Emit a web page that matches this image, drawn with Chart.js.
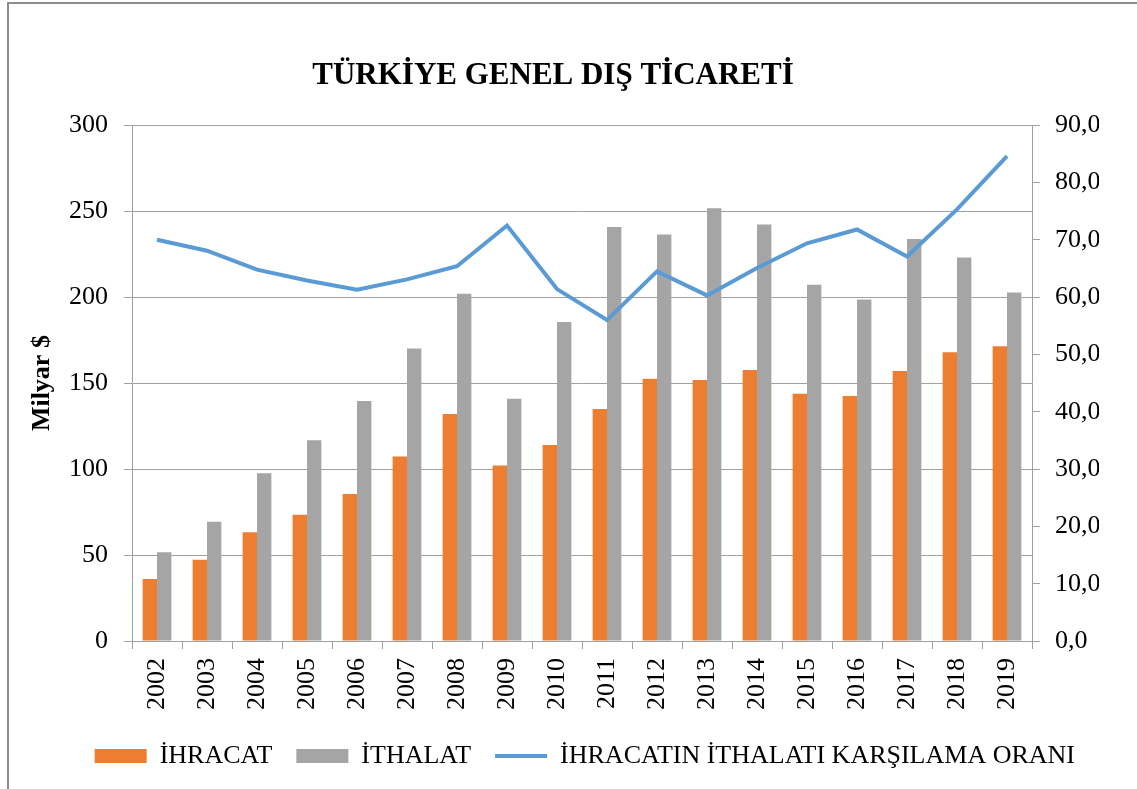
<!DOCTYPE html>
<html>
<head>
<meta charset="utf-8">
<title>Türkiye Genel Dış Ticareti</title>
<script src="https://cdn.jsdelivr.net/npm/chart.js@4.4.0/dist/chart.umd.min.js"></script>
<style>
    html, body { margin: 0; padding: 0; background: #fff; overflow: hidden; }
    #wrap { position: relative; width: 1137px; height: 789px; overflow: hidden; }
    #frame {
        position: absolute; left: 7px; top: 2px; right: -10px; bottom: -10px;
        border-left: 2px solid #8c8c8c; border-top: 2px solid #8c8c8c;
        pointer-events: none;
    }
    canvas { position: absolute; left: 0; top: 0; }
</style>
</head>
<body>
<div id="wrap">
    <canvas id="tradeChart" width="1137" height="789"></canvas>
    <div id="frame"></div>
</div>
<script>
const years = ['2002', '2003', '2004', '2005', '2006', '2007', '2008', '2009', '2010',
    '2011', '2012', '2013', '2014', '2015', '2016', '2017', '2018', '2019'];

// milyar $
const ihracat = [36.1, 47.3, 63.2, 73.5, 85.5, 107.3, 132.0, 102.1, 114.0,
    135.0, 152.5, 151.8, 157.6, 143.8, 142.5, 157.0, 167.9, 171.5];
const ithalat = [51.6, 69.3, 97.5, 116.8, 139.6, 170.1, 202.0, 140.9, 185.5,
    240.8, 236.5, 251.7, 242.2, 207.2, 198.6, 233.8, 223.0, 202.7];

// %
const karsilamaOrani = [70.0, 68.1, 64.8, 62.9, 61.3, 63.1, 65.4, 72.5, 61.4,
    56.0, 64.5, 60.3, 65.1, 69.4, 71.8, 67.1, 75.3, 84.6];

const leftTicks = [0, 50, 100, 150, 200, 250, 300];
const rightTicks = [0, 10, 20, 30, 40, 50, 60, 70, 80, 90];

const serif = "'Liberation Serif', 'Times New Roman', serif";
const gridColor = '#9f9f9f';

function fixedTicks(values) {
    return scale => {
        scale.ticks = values.map(v => ({ value: v }));
    };
}

const ctx = document.getElementById('tradeChart').getContext('2d');
new Chart(ctx, {
    type: 'bar',
    data: {
        labels: years,
        datasets: [{
            label: 'İHRACAT',
            data: ihracat,
            backgroundColor: '#ED7D31',
            borderWidth: 0,
            pointStyle: 'rect',
            categoryPercentage: 0.575,
            barPercentage: 1.0,
            order: 2
        }, {
            label: 'İTHALAT',
            data: ithalat,
            backgroundColor: '#A5A5A5',
            borderWidth: 0,
            pointStyle: 'rect',
            categoryPercentage: 0.575,
            barPercentage: 1.0,
            order: 3
        }, {
            type: 'line',
            label: 'İHRACATIN İTHALATI KARŞILAMA ORANI',
            data: karsilamaOrani,
            yAxisID: 'y1',
            borderColor: '#5B9BD5',
            backgroundColor: '#5B9BD5',
            borderWidth: 4,
            pointRadius: 0,
            pointHoverRadius: 0,
            pointStyle: 'line',
            tension: 0,
            fill: false,
            order: 1
        }]
    },
    options: {
        responsive: false,
        animation: false,
        layout: {
            padding: { left: 7, right: 38, top: 0, bottom: 10 }
        },
        plugins: {
            title: {
                display: true,
                text: 'TÜRKİYE GENEL DIŞ TİCARETİ',
                color: '#000',
                font: { family: serif, size: 31, weight: 'bold' },
                padding: { top: 57, bottom: 31 }
            },
            legend: {
                position: 'bottom',
                align: 'end',
                labels: {
                    usePointStyle: true,
                    pointStyleWidth: 52,
                    boxHeight: 14,
                    padding: 24,
                    color: '#000',
                    font: { family: serif, size: 26 },
                    sort: (a, b) => a.datasetIndex - b.datasetIndex
                }
            },
            tooltip: { enabled: false }
        },
        scales: {
            x: {
                offset: true,
                grid: {
                    offset: true,
                    drawOnChartArea: false,
                    tickLength: 8,
                    color: gridColor
                },
                border: { color: gridColor },
                ticks: {
                    autoSkip: false,
                    minRotation: 90,
                    maxRotation: 90,
                    padding: 9,
                    color: '#000',
                    font: { family: serif, size: 26 }
                },
                afterFit: scale => { scale.height = 78; }
            },
            y: {
                position: 'left',
                min: 0,
                max: 300,
                afterBuildTicks: fixedTicks(leftTicks),
                grid: { color: gridColor, tickLength: 8 },
                border: { color: gridColor },
                ticks: {
                    padding: 16,
                    color: '#000',
                    font: { family: serif, size: 26 }
                },
                title: {
                    display: true,
                    text: 'Milyar $',
                    color: '#000',
                    font: { family: serif, size: 26, weight: 'bold' },
                    padding: { top: 20, bottom: 0 }
                },
                afterFit: scale => { scale.width = 125; }
            },
            y1: {
                position: 'right',
                min: 0,
                max: 90,
                afterBuildTicks: fixedTicks(rightTicks),
                grid: { drawOnChartArea: false, color: gridColor, tickLength: 8 },
                border: { color: gridColor },
                ticks: {
                    padding: 15,
                    color: '#000',
                    font: { family: serif, size: 26 },
                    callback: v => v.toFixed(1).replace('.', ',')
                },
                afterFit: scale => { scale.width = 67; }
            }
        }
    }
});
</script>
</body>
</html>
